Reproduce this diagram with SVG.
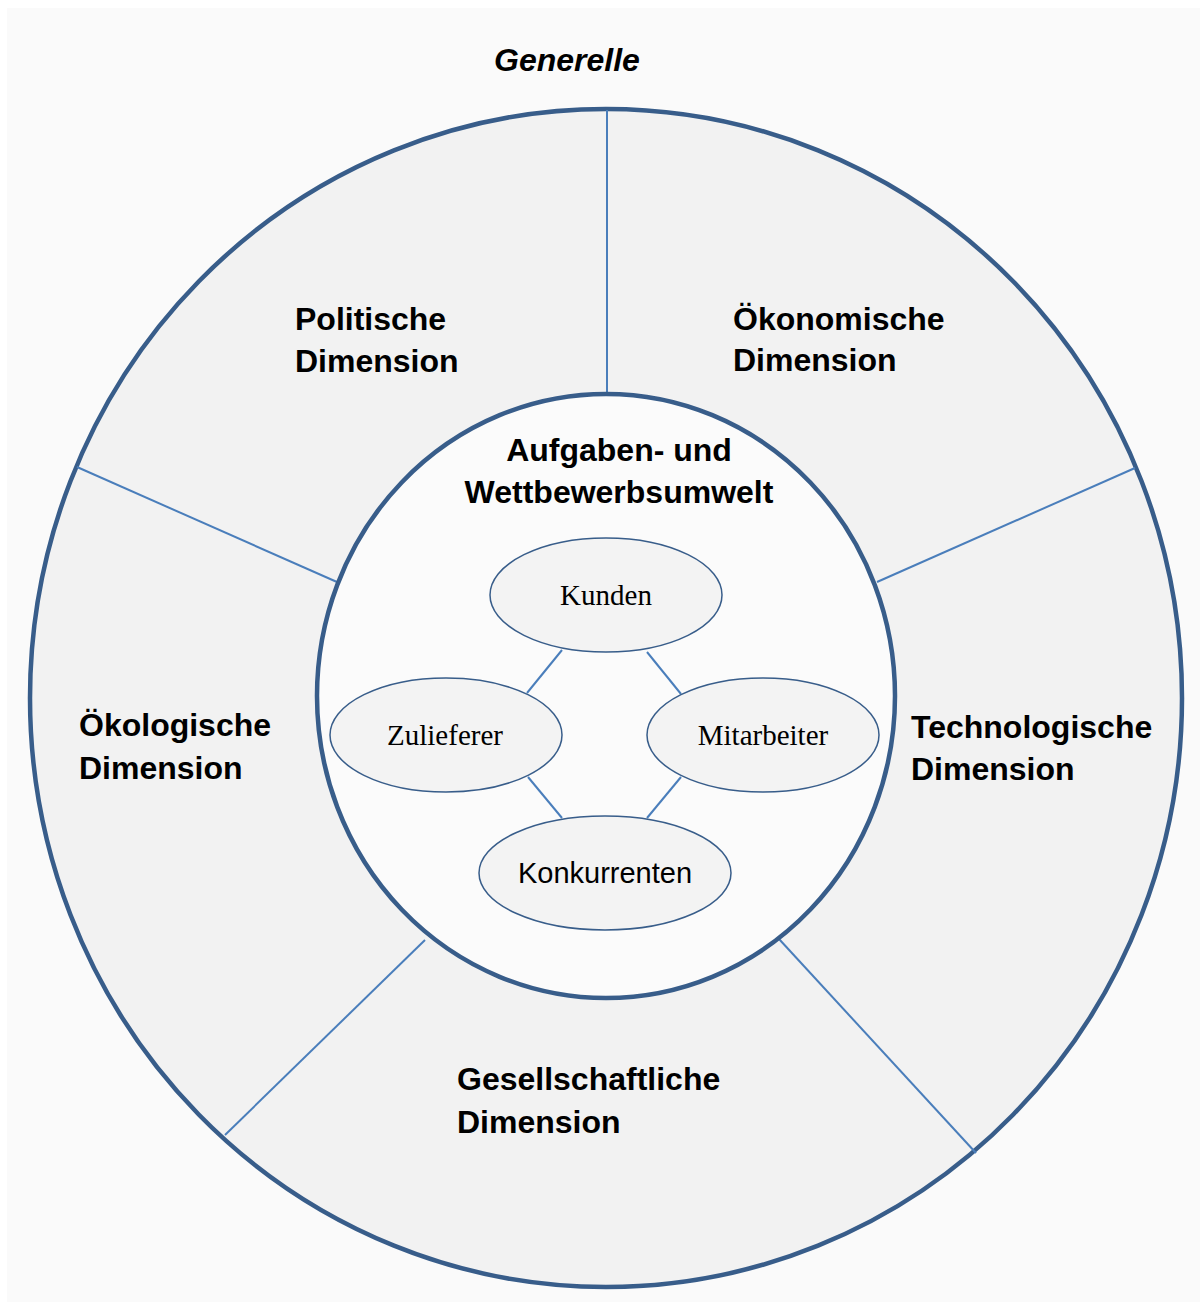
<svg xmlns="http://www.w3.org/2000/svg" width="1200" height="1303" viewBox="0 0 1200 1303">
  <style>
    .ring { fill: #f2f2f2; stroke: #385d8a; stroke-width: 4.5; }
    .core { fill: #fbfbfb; stroke: #385d8a; stroke-width: 4.5; }
    .divider { stroke: #4a7ebb; stroke-width: 2; fill: none; }
    .actor { fill: #f3f3f3; stroke: #385d8a; stroke-width: 1.5; }
    .link { stroke: #4a7ebb; stroke-width: 2; fill: none; }
    .dim { font-family: "Liberation Sans", Arial, sans-serif; font-weight: bold; font-size: 32px; fill: #000; }
    .serif { font-family: "Liberation Serif", "Times New Roman", serif; font-size: 29px; fill: #000; }
    .sans { font-family: "Liberation Sans", Arial, sans-serif; font-size: 29px; fill: #000; }
  </style>

  <!-- page background -->
  <rect x="0" y="0" width="1200" height="1303" fill="#ffffff"/>
  <rect x="7" y="8" width="1193" height="1294" fill="#fafafa"/>

  <!-- general environment: outer ring -->
  <g id="general-environment">
    <ellipse class="ring" cx="606" cy="698" rx="576" ry="589"/>
    <text class="dim" x="494" y="71" font-style="italic">Generelle</text>
  </g>

  <!-- sector boundaries between the five dimensions -->
  <g id="sector-dividers">
    <line class="divider" x1="607" y1="110" x2="607" y2="396"/>
    <line class="divider" x1="77" y1="467" x2="337" y2="582"/>
    <line class="divider" x1="1135" y1="468" x2="877" y2="582"/>
    <line class="divider" x1="425" y1="940" x2="225" y2="1135"/>
    <line class="divider" x1="779" y1="939" x2="976" y2="1153"/>
  </g>

  <g id="dim-politisch">
    <text class="dim" x="295" y="330">Politische</text>
    <text class="dim" x="295" y="372">Dimension</text>
  </g>
  <g id="dim-oekonomisch">
    <text class="dim" x="733" y="330">Ökonomische</text>
    <text class="dim" x="733" y="371">Dimension</text>
  </g>
  <g id="dim-oekologisch">
    <text class="dim" x="79" y="736">Ökologische</text>
    <text class="dim" x="79" y="779">Dimension</text>
  </g>
  <g id="dim-technologisch">
    <text class="dim" x="911" y="738">Technologische</text>
    <text class="dim" x="911" y="780">Dimension</text>
  </g>
  <g id="dim-gesellschaftlich">
    <text class="dim" x="457" y="1090">Gesellschaftliche</text>
    <text class="dim" x="457" y="1133">Dimension</text>
  </g>

  <!-- task and competitive environment: inner circle -->
  <g id="task-environment">
    <ellipse class="core" cx="606" cy="696" rx="289" ry="302"/>
    <text class="dim" x="619" y="461" text-anchor="middle">Aufgaben- und</text>
    <text class="dim" x="619" y="503" text-anchor="middle">Wettbewerbsumwelt</text>
  </g>

  <!-- links between the stakeholder ellipses -->
  <g id="connectors">
    <line class="link" x1="562" y1="650" x2="527" y2="693"/>
    <line class="link" x1="647" y1="652" x2="681" y2="694"/>
    <line class="link" x1="528" y1="777" x2="562" y2="818"/>
    <line class="link" x1="681" y1="777" x2="647" y2="818"/>
  </g>

  <g id="kunden">
    <ellipse class="actor" cx="606" cy="595" rx="116" ry="57"/>
    <text class="serif" x="606" y="605" text-anchor="middle">Kunden</text>
  </g>
  <g id="zulieferer">
    <ellipse class="actor" cx="446" cy="735" rx="116" ry="57"/>
    <text class="serif" x="445" y="745" text-anchor="middle">Zulieferer</text>
  </g>
  <g id="mitarbeiter">
    <ellipse class="actor" cx="763" cy="735" rx="116" ry="57"/>
    <text class="serif" x="763" y="745" text-anchor="middle">Mitarbeiter</text>
  </g>
  <g id="konkurrenten">
    <ellipse class="actor" cx="605" cy="873" rx="126" ry="57"/>
    <text class="sans" x="605" y="883" text-anchor="middle">Konkurrenten</text>
  </g>
</svg>
